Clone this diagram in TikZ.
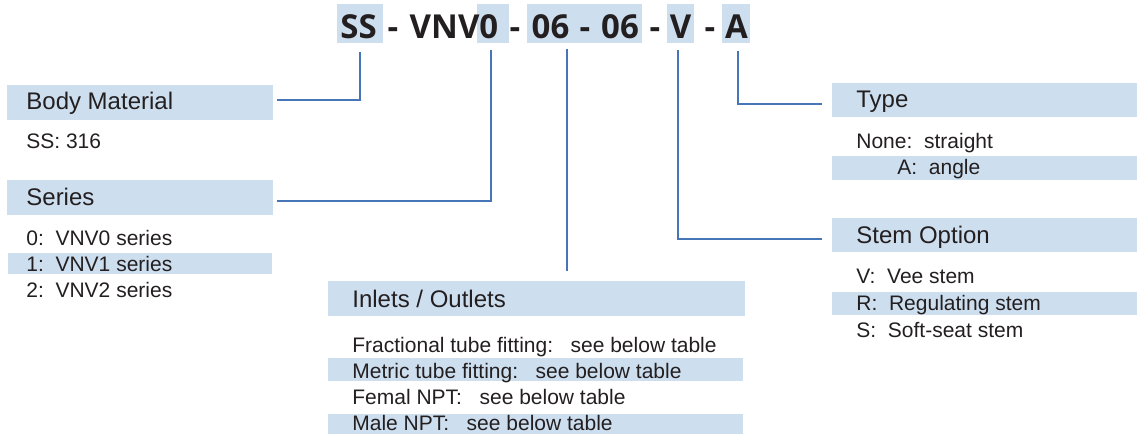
\documentclass[tikz,border=0pt]{standalone}
\usepackage{fontspec}
\setmainfont{Liberation Sans}
\newfontfamily\codefont{Open Sans}
\usetikzlibrary{fit}
\definecolor{bandc}{RGB}{205,222,239}
\definecolor{connc}{RGB}{70,118,184}
\definecolor{ink}{RGB}{35,31,32}
\begin{document}
\begin{tikzpicture}[x=0.5pt,y=-0.5pt,
  bandbox/.style={fill=bandc, draw=none, inner sep=0pt},
  head/.style={anchor=base west, inner sep=0pt, text=ink, font=\fontsize{12}{14}\selectfont},
  item/.style={anchor=base west, inner sep=0pt, text=ink, font=\fontsize{10.5}{12}\selectfont},
  code/.style={anchor=base, inner sep=0pt, text=ink, font=\codefont\bfseries\fontsize{16.5}{18}\selectfont},
  conn/.style={draw=connc, line width=0.9pt}
]
\useasboundingbox (0,0) rectangle (1137,434);

% ---- code highlight boxes ----
\node[bandbox, fit={(337,4) (383,43)}] (bss) {};
\node[bandbox, fit={(477,4) (509,43)}] (b0) {};
\node[bandbox, fit={(527,4) (642,43)}] (b06) {};
\node[bandbox, fit={(667,4) (694,43)}] (bv) {};
\node[bandbox, fit={(722,4) (750,43)}] (ba) {};

% ---- code text ----
\node[code] (tss) at (358.5,38) {SS};
\node[code] (d1) at (393,38) {-};
\node[code] (tvnv) at (454,38) {VNV0};
\node[code] (d2) at (515,38) {-};
\node[code] (t06a) at (550.5,38) {06};
\node[code] (d3) at (585,38) {-};
\node[code] (t06b) at (620,38) {06};
\node[code] (d4) at (655,38) {-};
\node[code] (tv) at (680.5,38) {V};
\node[code] (d5) at (710,38) {-};
\node[code] (ta) at (736.5,38) {A};

% ---- Body Material ----
\node[bandbox, fit={(7,85) (273,120)}] (bm) {};
\node[head] (bmt) at (26,109) {Body Material};
\node[item] (bm1) at (26,148) {SS: 316};

% ---- Series ----
\node[bandbox, fit={(7,180) (273,215)}] (ser) {};
\node[head] (sert) at (26,205) {Series};
\node[bandbox, fit={(8,253) (272,274)}] (serr) {};
\node[item] (ser0) at (26,245.5) {0:\ \ VNV0 series};
\node[item] (ser1) at (26,271) {1:\ \ VNV1 series};
\node[item] (ser2) at (26,297) {2:\ \ VNV2 series};

% ---- Inlets / Outlets ----
\node[bandbox, fit={(328,281) (745,316)}] (io) {};
\node[head] (iot) at (352,307) {Inlets / Outlets};
\node[bandbox, fit={(328,358) (743,381)}] (ior2) {};
\node[bandbox, fit={(328,414) (743,434)}] (ior4) {};
\node[item] (io1) at (352,352) {Fractional tube fitting:\ \ \ see below table};
\node[item] (io2) at (352,378) {Metric tube fitting:\ \ \ see below table};
\node[item] (io3) at (352,404) {Femal NPT:\ \ \ see below table};
\node[item] (io4) at (352,430) {Male NPT:\ \ \ see below table};

% ---- Type ----
\node[bandbox, fit={(832,83) (1137,117)}] (ty) {};
\node[head] (tyt) at (856,107) {Type};
\node[item] (ty1) at (856,148) {None:\ \ straight};
\node[bandbox, fit={(832,156) (1137,180)}] (tyr) {};
\node[item] (ty2) at (897,174) {A:\ \ angle};

% ---- Stem Option ----
\node[bandbox, fit={(832,218) (1137,252)}] (st) {};
\node[head] (stt) at (856,243) {Stem Option};
\node[bandbox, fit={(832,292) (1137,315)}] (str) {};
\node[item] (st1) at (856,283) {V:\ \ Vee stem};
\node[item] (st2) at (856,310) {R:\ \ Regulating stem};
\node[item] (st3) at (856,337) {S:\ \ Soft-seat stem};

% ---- connectors ----
\coordinate (ioend) at (567,271);
\draw[conn] ([yshift=-4.5pt]bss.south) |- ([xshift=2pt,yshift=1.25pt]bm.east);
\draw[conn] ([xshift=-1pt,yshift=-3.5pt]b0.south) |- ([xshift=2pt,yshift=-1.75pt]ser.east);
\draw[conn] ([xshift=-8.75pt,yshift=-3pt]b06.south) -- (ioend);
\draw[conn] ([xshift=-1.25pt,yshift=-3.5pt]bv.south) |- ([xshift=-5pt,yshift=-2pt]st.west);
\draw[conn] ([xshift=1pt,yshift=-4pt]ba.south) |- ([xshift=-5pt,yshift=-2pt]ty.west);
\end{tikzpicture}
\end{document}
